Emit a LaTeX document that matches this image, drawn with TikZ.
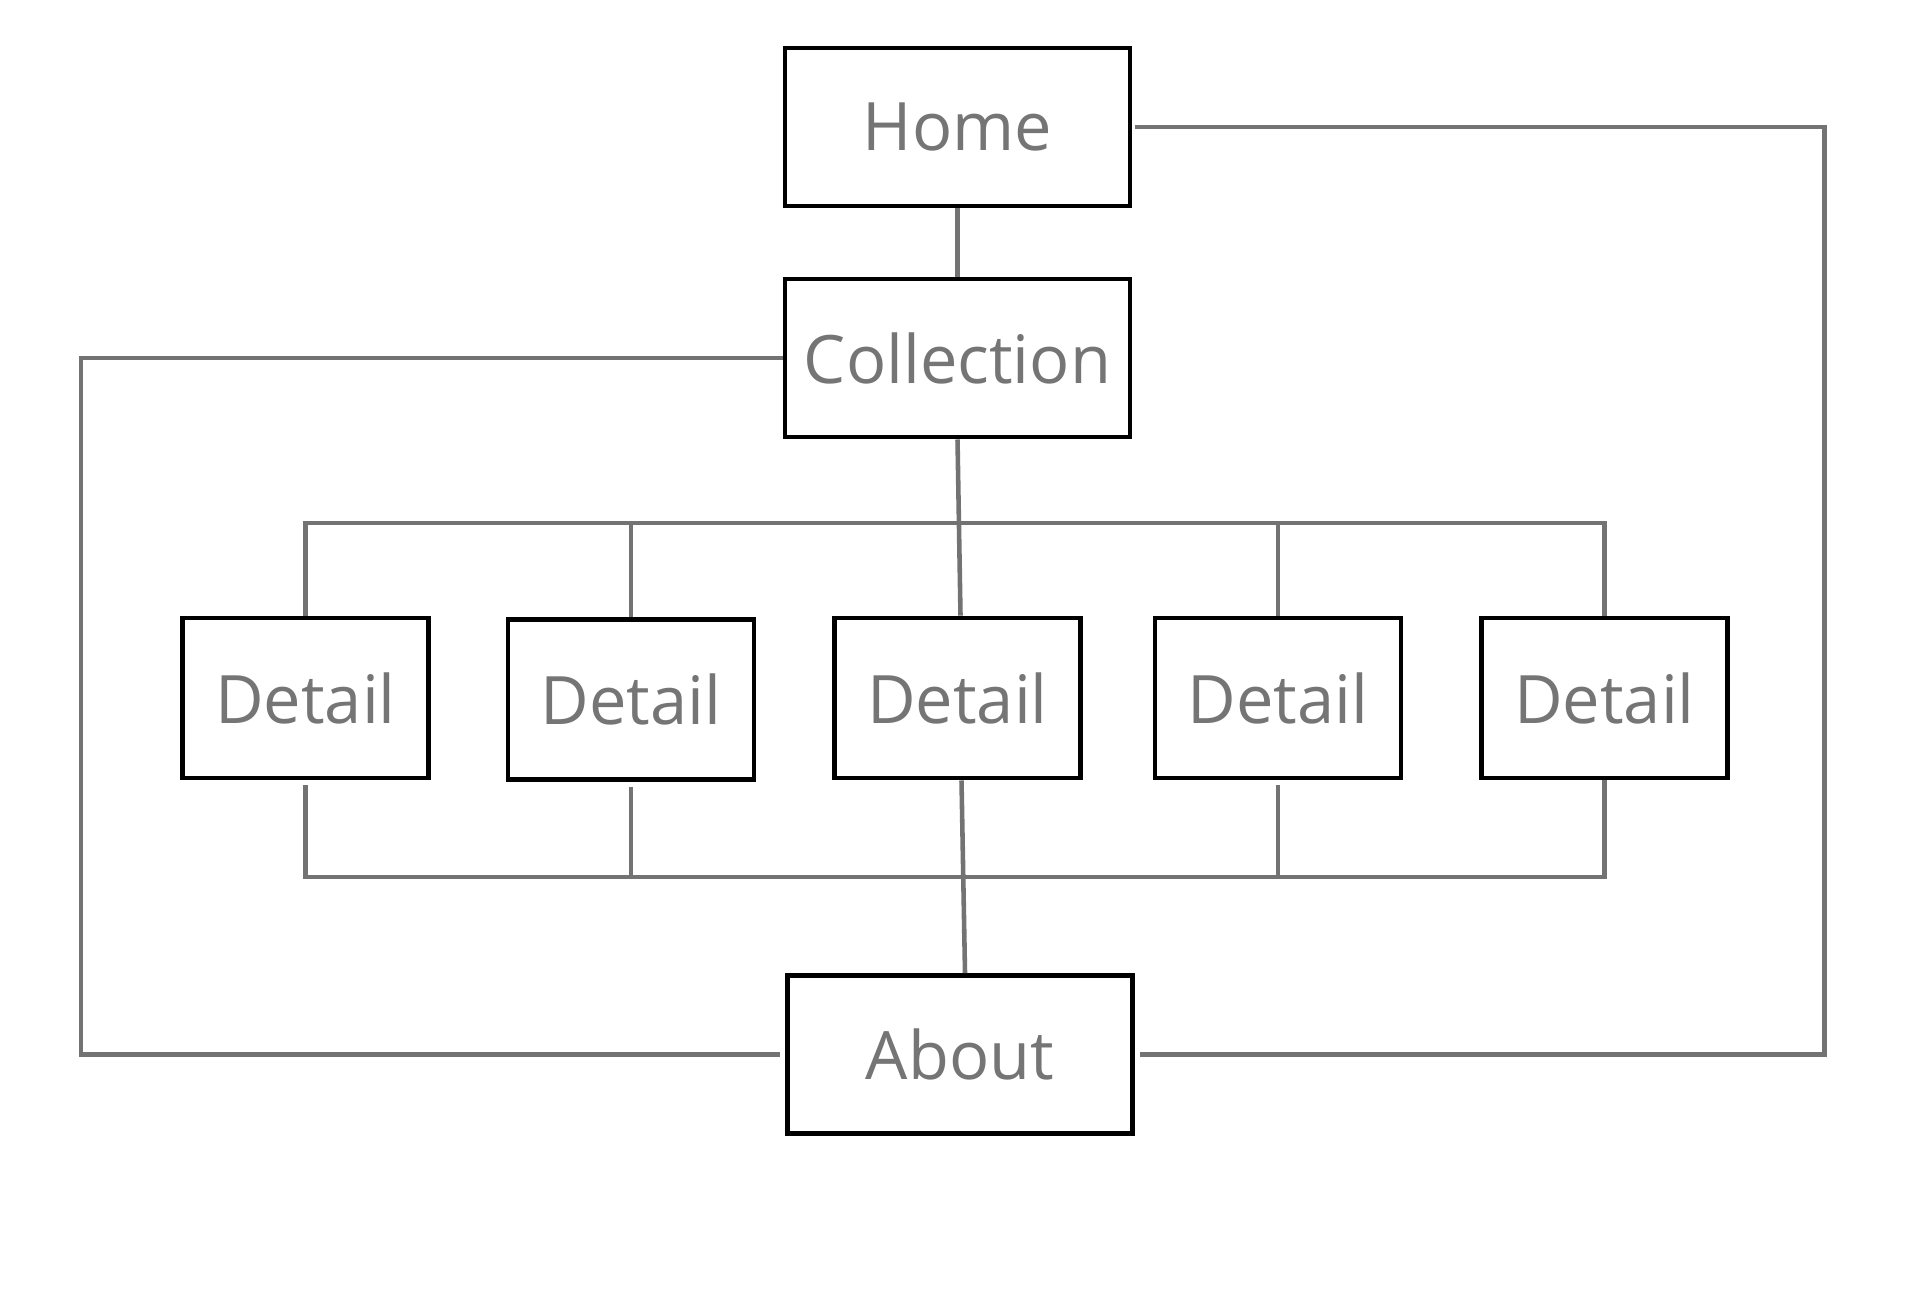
\documentclass[tikz,border=0pt]{standalone}
\usepackage{fontspec}
\setmainfont{Open Sans}
\usepackage{tikz}
\definecolor{LineGray}{HTML}{737373}
\definecolor{TextGray}{HTML}{757575}

\begin{document}
\begin{tikzpicture}[
page/.style={draw=black,line width=1.4pt,fill=white,minimum width=3.45cm,minimum height=1.58cm,inner sep=0pt,align=center,text=TextGray,font=\fontsize{19}{22}\selectfont},
detail/.style={page,minimum width=2.46cm,minimum height=1.6cm},
conn/.style={draw=LineGray,line width=1.3pt}]

\useasboundingbox (0,0) rectangle (19.2,-13.12);

\node[page] (home) at (9.575,-1.27) {Home};
\node[page] (coll) at (9.575,-3.58) {Collection};
\node[detail] (d1) at (3.055,-6.98) {Detail};
\node[detail] (d2) at (6.31,-6.995) {Detail};
\node[detail] (d3) at (9.575,-6.98) {Detail};
\node[detail] (d4) at (12.78,-6.98) {Detail};
\node[detail] (d5) at (16.045,-6.98) {Detail};
\node[page] (about) at (9.6,-10.545) {About};

\coordinate (topbus) at (0,-5.23);
\coordinate (botbus) at (0,-8.77);
\coordinate (lx) at (0.81,0);
\coordinate (rx) at (18.245,0);

\draw[conn] (home.south) -- (coll.north);
\draw[conn] (coll.south) -- ([xshift=0.03cm]d3.north);
\draw[conn] (d1.north) -- (d1.north |- topbus) -- (d5.north |- topbus) -- (d5.north);
\draw[conn] (d2.north) -- (d2.north |- topbus);
\draw[conn] (d4.north) -- (d4.north |- topbus);
\draw[conn,shorten <=0.05cm] (d1.south) -- (d1.south |- botbus) -- (d5.south |- botbus) -- (d5.south);
\draw[conn,shorten <=0.05cm] (d2.south) -- (d2.south |- botbus);
\draw[conn,shorten <=0.05cm] (d4.south) -- (d4.south |- botbus);
\draw[conn] ([xshift=0.04cm]d3.south) -- ([xshift=0.05cm]about.north);
\draw[conn] (coll.west) -- (coll.west -| lx) -- (about.west -| lx) -- ([xshift=-0.05cm]about.west);
\draw[conn,shorten <=0.03cm] (home.east) -- (home.east -| rx) -- (about.east -| rx) -- ([xshift=0.05cm]about.east);

\end{tikzpicture}
\end{document}
